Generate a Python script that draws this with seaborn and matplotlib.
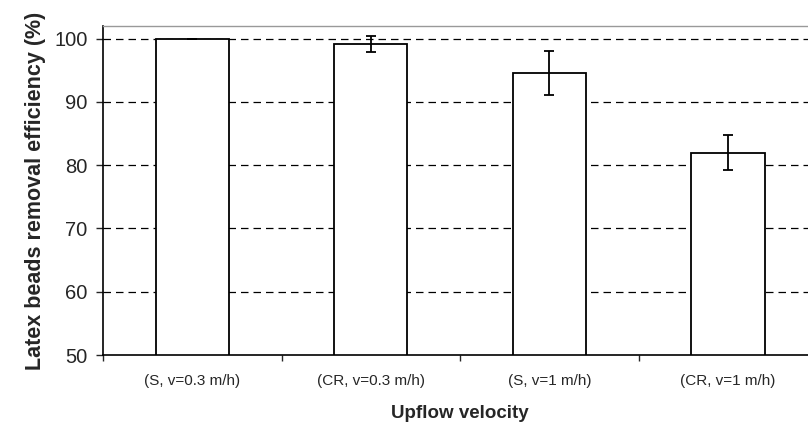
import matplotlib
matplotlib.use('Agg')
import matplotlib.pyplot as plt
import seaborn as sns
import pandas as pd
from matplotlib.ticker import FixedLocator

# values
conditions = ['(S, v=0.3 m/h)', '(CR, v=0.3 m/h)', '(S, v=1 m/h)', '(CR, v=1 m/h)']
efficiency = [100.0, 99.1, 94.6, 82.0]
error = [0.0, 1.25, 3.5, 2.7]

df = pd.DataFrame({'condition': conditions, 'efficiency': efficiency})

sns.set_style('white')
plt.rcParams['font.family'] = ['Liberation Sans', 'DejaVu Sans']

fig = plt.figure(figsize=(8.08, 4.34), dpi=100)
ax = fig.add_axes([0.1275, 0.182, 0.884, 0.758])

# dashed gridlines behind the bars
for yv in [60, 70, 80, 90, 100]:
    ax.axhline(yv, color='black', linestyle=(0, (6, 4)), linewidth=0.9, zorder=0)

sns.barplot(data=df, x='condition', y='efficiency', color='white', edgecolor='black',
            linewidth=1.3, width=0.41, errorbar=None, ax=ax, zorder=2)
ax.errorbar(range(len(conditions)), efficiency, yerr=error, fmt='none', ecolor='black',
            elinewidth=1.3, capsize=3.7, capthick=1.3, zorder=3)

ax.set_ylim(50, 102)
ax.set_xlim(-0.5, 3.5)
ax.set_yticks([50, 60, 70, 80, 90, 100])
ax.tick_params(axis='y', labelsize=14.5, length=5, width=1, direction='out', left=True, pad=6)
ax.tick_params(axis='x', which='major', labelsize=11, length=0, pad=14)
ax.xaxis.set_minor_locator(FixedLocator([-0.5, 0.5, 1.5, 2.5]))
ax.tick_params(axis='x', which='minor', length=4, width=1, bottom=True, direction='out')

for s in ['left', 'bottom']:
    ax.spines[s].set_color('black')
    ax.spines[s].set_linewidth(1.2)
ax.spines['top'].set_color('#999999')
ax.spines['top'].set_linewidth(1.0)
ax.spines['right'].set_visible(False)

ax.set_xlabel('Upflow velocity', fontsize=13.5, fontweight='bold', labelpad=12)
ax.set_ylabel('Latex beads removal efficiency (%)', fontsize=15.5, fontweight='bold', labelpad=6)

fig.savefig('out.png', dpi=100)
